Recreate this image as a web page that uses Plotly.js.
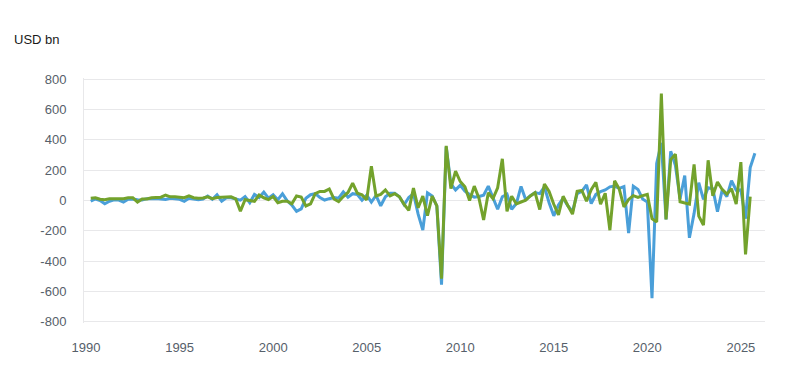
<!DOCTYPE html>
<html>
<head>
<meta charset="utf-8">
<script src="https://cdn.plot.ly/plotly-3.0.1.min.js"></script>
<style>
  html, body { margin: 0; padding: 0; background: #ffffff; }
  #chart { width: 799px; height: 383px; }
</style>
</head>
<body>
<div id="chart"></div>
<script>
// Quarterly series, first quarter = 1990 Q1
const startYear = 1990;
const quartersPerYear = 4;

const seriesBlue = [
  -5, 10, 0, -22, -5, 5, 3, -10, 8, 10,
  5, 3, 12, 15, 13, 10, 7, 15, 12, 8,
  -5, 15, 10, 5, 10, 30, 8, 38, -4, 18,
  18, 10, 2, 26, -15, 40, 20, 55, 15, 38,
  5, 44, -2, -30, -72, -55, 15, 38, 45, 20,
  3, 12, 20, 15, 57, 22, 45, 40, 2, 35,
  -10, 33, -35, 25, 48, 48, 25, -28, 20, 45,
  -90, -195, 50, 29, -37, -555, 355, 110, 70, 100,
  62, 40, 22, 27, 35, 95, 15, -58, 25, 42,
  -58, -20, 93, 5, 32, 52, 45, 90, -15, -101,
  -30, 15, -35, -73, 45, 60, 103, -20, 40, 58,
  70, 90, 95, 80, 92, -215, 95, 73, 10, -10,
  -645, 245, 380, -125, 325, 232, 12, 164, -246, -85,
  117, 7, 84, 78, -74, 68, 26, 130, 68, 70,
  -120, 218, 312
];

const seriesGreen = [
  15, 18, 8, 5, 12, 12, 10, 12, 18, 18,
  -10, 10, 10, 18, 20, 22, 35, 24, 24, 20,
  18, 30, 18, 15, 16, 24, 12, 20, 22, 26,
  24, 10, -70, 5, 2, -5, 36, 18, 6, 26,
  -15, -5, -5, -22, 30, 22, -36, -22, 46, 60,
  60, 76, 10, -7, 26, 53, 114, 48, 37, 4,
  226, 30, 40, 70, 30, 45, 25, -25, -65, 82,
  -48, 29, -100, 29, -35, -515, 360, 78, 194, 125,
  90, 0, 95, 15, -128, 51, 12, 84, 275, -72,
  28, -22, -10, 2, 30, 52, -60, 108, 60, -25,
  -95, 28, -33, -90, 60, 66, -5, 72, 120, -24,
  48, -196, 130, 75, -42, 7, 32, 20, 32, 40,
  -120, -142, 705, -125, 270, 305, -8, -15, -24, 238,
  -103, -162, 265, 31, 122, 73, 42, 78, -23, 253,
  -356, 26
];

const xTickVals = [1990, 1995, 2000, 2005, 2010, 2015, 2020, 2025];
const xTickText = ['1990', '1995', '2000', '2005', '2010', '2015', '2020', '2025'];
const yTickVals = [-800, -600, -400, -200, 0, 200, 400, 600, 800];
const yTickText = ['-800', '-600', '-400', '-200', '0', '200', '400', '600', '800'];
const unitLabel = 'USD bn';

// quarter-end positions in decimal years
function quarterPositions(n) {
  const out = [];
  for (let i = 0; i < n; i++) out.push(startYear + (i + 1) / quartersPerYear);
  return out;
}

const tickFont = { family: '"Liberation Sans", Arial, sans-serif', size: 13, color: '#56606a' };

const traces = [
  {
    x: quarterPositions(seriesBlue.length),
    y: seriesBlue,
    type: 'scatter',
    mode: 'lines',
    line: { color: '#4a9fd9', width: 3 },
    hoverinfo: 'skip'
  },
  {
    x: quarterPositions(seriesGreen.length),
    y: seriesGreen,
    type: 'scatter',
    mode: 'lines',
    line: { color: '#73a22c', width: 3 },
    hoverinfo: 'skip'
  }
];

const layout = {
  width: 799,
  height: 383,
  margin: { l: 84, r: 34, t: 78, b: 60, pad: 0 },
  paper_bgcolor: '#ffffff',
  plot_bgcolor: '#ffffff',
  showlegend: false,
  xaxis: {
    range: [1989.89, 2026.29],
    tickmode: 'array',
    tickvals: xTickVals,
    ticktext: xTickText,
    showgrid: false,
    zeroline: false,
    showline: false,
    ticks: '',
    tickfont: tickFont,
    ticklabelstandoff: 15
  },
  yaxis: {
    range: [-808, 808],
    tickmode: 'array',
    tickvals: yTickVals,
    ticktext: yTickText,
    showgrid: true,
    gridcolor: '#e8e8ea',
    gridwidth: 1,
    zeroline: false,
    showline: true,
    linecolor: '#e8e8ea',
    linewidth: 1,
    ticks: '',
    tickfont: tickFont,
    ticklabelstandoff: 14
  },
  annotations: [
    {
      text: unitLabel,
      xref: 'paper', yref: 'paper',
      x: -0.105, y: 1.158,
      xanchor: 'left', yanchor: 'middle',
      showarrow: false,
      font: { family: '"Liberation Sans", Arial, sans-serif', size: 13, color: '#1a1a1a' }
    }
  ]
};

Plotly.newPlot('chart', traces, layout, { staticPlot: true, displayModeBar: false });
</script>
</body>
</html>
